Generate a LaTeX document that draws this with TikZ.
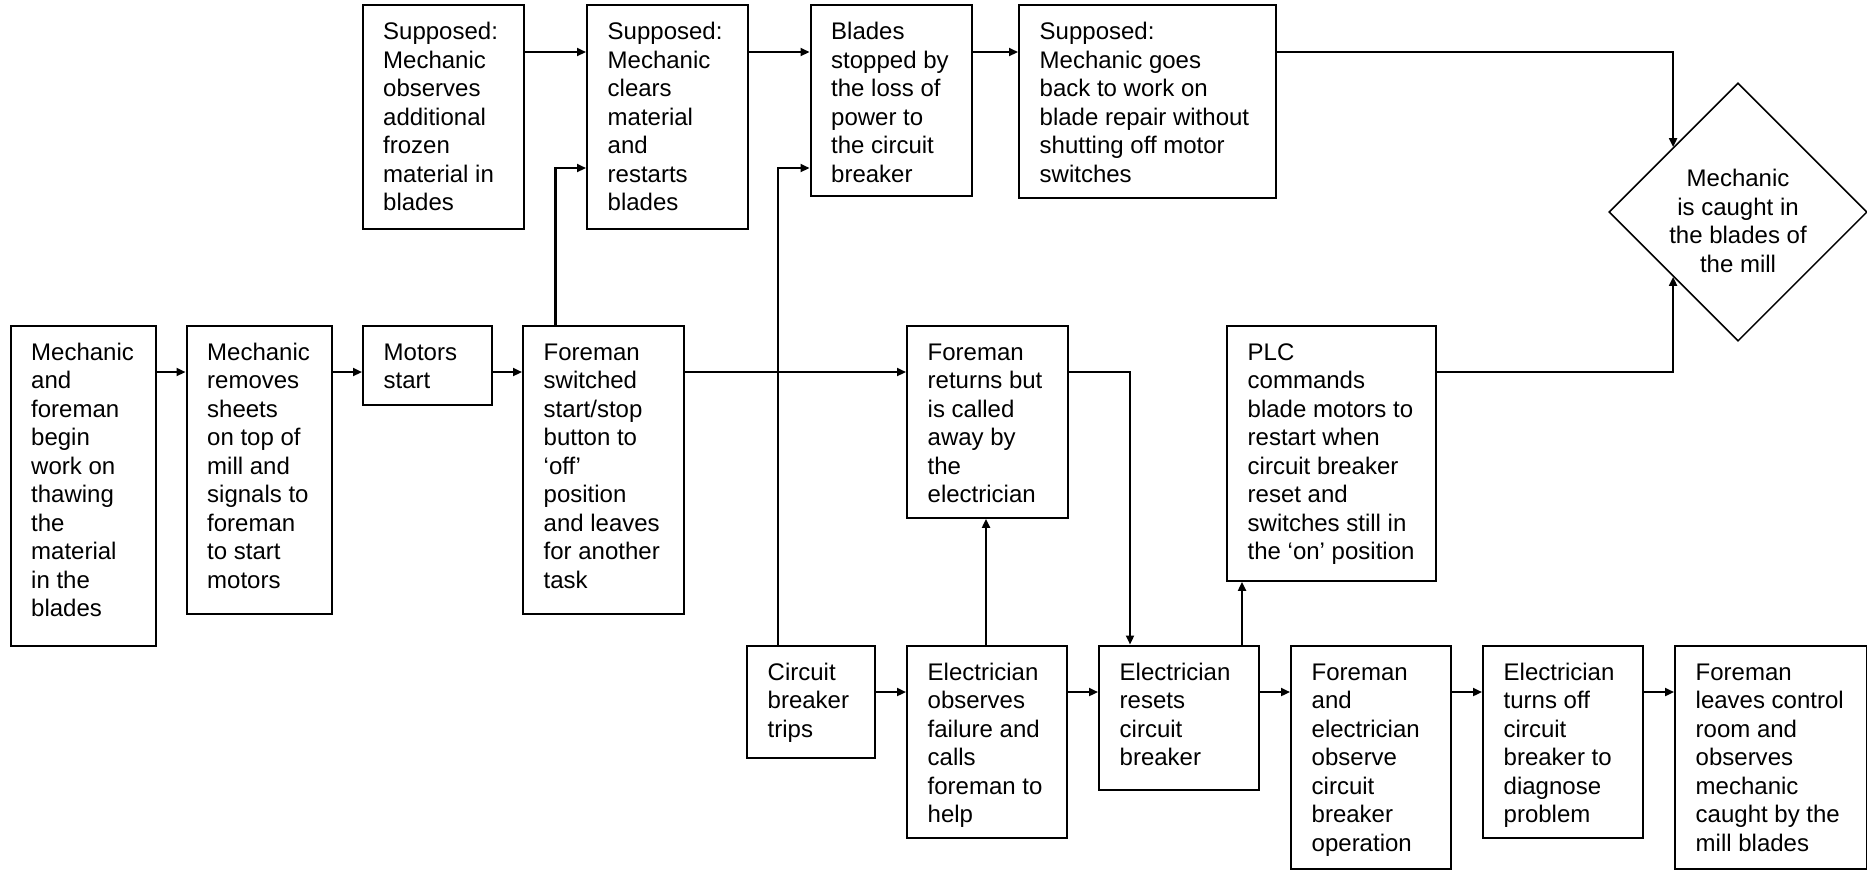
\documentclass[tikz,border=0pt]{standalone}
\usepackage{fontspec}
\setmainfont{Liberation Sans}
\usetikzlibrary{arrows.meta,shapes.geometric}

% one drawing unit = 0.5pt; boxes are given as left, top, width, height
\newdimen\upx \upx=0.5pt
\newdimen\padx \padx=10.25pt
\newdimen\pady \pady=7.3pt
\newcommand\flowfont{\fontsize{12pt}{14.25pt}\selectfont}

% \stepnode{name}{left}{top}{width}{height}{lines}
\newcommand\stepnode[6]{%
  \node[stepbox, anchor=north west] (#1) at (#2,#3)
    {\parbox[t][\dimexpr#5\upx-2\pady\relax][t]{\dimexpr#4\upx-2\padx\relax}%
      {\begin{tabular}[t]{@{}l@{}}#6\end{tabular}}};}

\tikzset{
  stepbox/.style={draw, line width=1.2pt, inner xsep=\padx, inner ysep=\pady, font=\flowfont},
  decision/.style={diamond, draw, line width=0.75pt, minimum width=127.5pt,
    minimum height=128pt, inner sep=0pt, align=center, font=\flowfont},
  arr/.style={line width=1.05pt, -{Triangle[length=4.5pt,width=4pt]}}
}

\begin{document}
\begin{tikzpicture}[x=0.5pt, y=-0.5pt]
\useasboundingbox (0,0) rectangle (1867,869);

% main row
\stepnode{A}{9.5}{324.5}{145}{320.5}{Mechanic\\and\\foreman\\begin\\work on\\thawing\\the\\material\\in the\\blades}
\stepnode{B}{185.5}{324.5}{145}{288}{Mechanic\\removes\\sheets\\on top of\\mill and\\signals to\\foreman\\to start\\motors}
\stepnode{C}{362}{324.5}{128.5}{79.5}{Motors\\start}
\stepnode{D}{522}{324.5}{161}{288}{Foreman\\switched\\start/stop\\button to\\‘off’\\position\\and leaves\\for another\\task}
\stepnode{I}{906}{324.5}{161}{192}{Foreman\\returns but\\is called\\away by\\the\\electrician}
\stepnode{J}{1226}{324.5}{209}{255}{PLC\\commands\\blade motors to\\restart when\\circuit breaker\\reset and\\switches still in\\the ‘on’ position}

% upper row
\stepnode{E}{361.5}{4}{161}{224}{Supposed:\\Mechanic\\observes\\additional\\frozen\\material in\\blades}
\stepnode{F}{586}{4}{161}{224}{Supposed:\\Mechanic\\clears\\material\\and\\restarts\\blades}
\stepnode{G}{809.5}{4}{161}{191}{Blades\\stopped by\\the loss of\\power to\\the circuit\\breaker}
\stepnode{H}{1018}{4}{256.5}{193}{Supposed:\\Mechanic goes\\back to work on\\blade repair without\\shutting off motor\\switches}

% lower row
\stepnode{K}{746}{644.5}{128}{112}{Circuit\\breaker\\trips}
\stepnode{L}{906}{644.5}{160}{192}{Electrician\\observes\\failure and\\calls\\foreman to\\help}
\stepnode{M}{1098}{644.5}{160}{144.5}{Electrician\\resets\\circuit\\breaker}
\stepnode{N}{1290}{644.5}{160}{223}{Foreman\\and\\electrician\\observe\\circuit\\breaker\\operation}
\stepnode{O}{1482}{644.5}{160}{192}{Electrician\\turns off\\circuit\\breaker to\\diagnose\\problem}
\stepnode{P}{1674}{644.5}{191.5}{223}{Foreman\\leaves control\\room and\\observes\\mechanic\\caught by the\\mill blades}

% outcome (the rule lowers the text block a little inside the diamond)
\node[decision] (Z) at (1738,212) {\rule{0pt}{17.5pt}Mechanic\\is caught in\\the blades of\\the mill};

% connector levels and verticals
\coordinate (rowT) at (0,52);
\coordinate (rowM) at (0,372);
\coordinate (rowB) at (0,692);
\coordinate (jog)  at (0,168);
\coordinate (xD) at (555.5,0);
\coordinate (xK) at (778,0);
\coordinate (xL) at (986,0);
\coordinate (xI) at (1130,0);
\coordinate (xM) at (1242,0);

\foreach \a/\b in {A/B,B/C,C/D,D/I}
  \draw[arr] (\a.east |- rowM) -- (\b.west |- rowM);
\foreach \a/\b in {E/F,F/G,G/H}
  \draw[arr] (\a.east |- rowT) -- (\b.west |- rowT);
\foreach \a/\b in {K/L,L/M,M/N,N/O,O/P}
  \draw[arr] (\a.east |- rowB) -- (\b.west |- rowB);

\draw[arr] (D.north -| xD) |- (F.west |- jog);
\draw[arr] (K.north -| xK) |- (G.west |- jog);
\draw[arr] (L.north -| xL) -- (I.south -| xL);
\draw[arr] (I.east |- rowM) -| (M.north -| xI);
\draw[arr] (M.north -| xM) -- (J.south -| xM);
\draw[arr] (H.east |- rowT) -| (Z.north west);
\draw[arr] (J.east |- rowM) -| (Z.south west);
\end{tikzpicture}
\end{document}
